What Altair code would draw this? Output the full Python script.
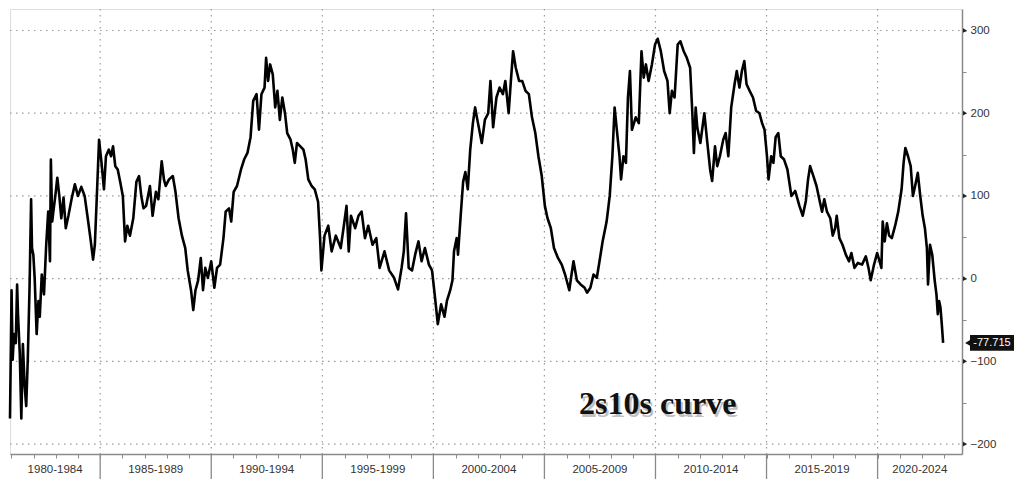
import altair as alt
import pandas as pd

# ---- data (decimal year, basis points) ----
years = [
    1980.94, 1981.01, 1981.06, 1981.12, 1981.20, 1981.26, 1981.30, 1981.38, 1981.45, 1981.52,
    1981.60, 1981.67, 1981.74, 1981.82, 1981.89, 1981.93, 1981.99, 1982.05, 1982.14, 1982.22,
    1982.28, 1982.37, 1982.47, 1982.57, 1982.66, 1982.74, 1982.78, 1982.84, 1982.91, 1982.98,
    1983.07, 1983.16, 1983.25, 1983.35, 1983.45, 1983.57, 1983.71, 1983.86, 1984.00, 1984.15,
    1984.30, 1984.44, 1984.56, 1984.68, 1984.76, 1984.85, 1984.95, 1985.06, 1985.17, 1985.26,
    1985.39, 1985.49, 1985.58, 1985.68, 1985.79, 1985.90, 1986.02, 1986.12, 1986.22, 1986.34,
    1986.49, 1986.63, 1986.75, 1986.85, 1986.95, 1987.07, 1987.24, 1987.36, 1987.51, 1987.62,
    1987.77, 1987.87,
    1987.95, 1988.10, 1988.27, 1988.39, 1988.53, 1988.68, 1988.83, 1988.94, 1989.09, 1989.19,
    1989.29, 1989.41, 1989.53, 1989.63, 1989.73, 1989.85, 1990.00, 1990.14, 1990.26, 1990.40,
    1990.55, 1990.65, 1990.80, 1990.90, 1991.01, 1991.16, 1991.34, 1991.48, 1991.63, 1991.77,
    1991.89, 1992.04, 1992.15, 1992.26, 1992.40, 1992.47, 1992.56, 1992.65, 1992.77, 1992.88,
    1992.98, 1993.09, 1993.20, 1993.32, 1993.42, 1993.57, 1993.67, 1993.76, 1993.86, 1994.01,
    1994.15, 1994.25, 1994.37, 1994.52, 1994.66, 1994.81, 1994.90, 1994.96,
    1995.10, 1995.27, 1995.42, 1995.61, 1995.83, 1995.97, 1996.09, 1996.19, 1996.29, 1996.48,
    1996.63, 1996.77, 1996.92, 1997.07, 1997.26, 1997.43, 1997.58, 1997.80, 1998.01, 1998.23,
    1998.41, 1998.57, 1998.67, 1998.77, 1998.89, 1999.04, 1999.18, 1999.33, 1999.47, 1999.62,
    1999.80, 1999.94, 2000.06, 2000.20, 2000.35, 2000.50, 2000.61, 2000.76, 2000.86, 2000.93,
    2001.05, 2001.11, 2001.23, 2001.34, 2001.44, 2001.55, 2001.66, 2001.78, 2001.88,
    2001.96, 2002.18, 2002.32, 2002.47, 2002.57, 2002.69, 2002.84, 2002.98, 2003.13, 2003.24,
    2003.39, 2003.49, 2003.59, 2003.71, 2003.86, 2004.00, 2004.15, 2004.30, 2004.44, 2004.59,
    2004.73, 2004.88, 2005.02, 2005.14, 2005.29, 2005.43, 2005.61, 2005.78, 2005.93, 2006.12,
    2006.22, 2006.31, 2006.46, 2006.63, 2006.81, 2006.92, 2007.07, 2007.21, 2007.36, 2007.48,
    2007.62, 2007.80, 2007.94, 2008.06, 2008.16, 2008.26, 2008.38, 2008.45, 2008.56, 2008.67,
    2008.76, 2008.85, 2008.94,
    2009.11, 2009.25, 2009.37, 2009.47, 2009.57, 2009.69, 2009.84, 2009.98, 2010.10, 2010.24,
    2010.39, 2010.54, 2010.64, 2010.74, 2010.86, 2011.00, 2011.12, 2011.27, 2011.41, 2011.56,
    2011.66, 2011.73, 2011.81, 2011.88, 2012.02, 2012.20, 2012.32, 2012.46, 2012.55, 2012.68,
    2012.78, 2012.90, 2013.05, 2013.16, 2013.28, 2013.41, 2013.56, 2013.66, 2013.78, 2013.89,
    2014.00, 2014.10, 2014.24, 2014.39, 2014.53, 2014.68, 2014.80, 2014.91, 2015.02, 2015.09,
    2015.21, 2015.31, 2015.41, 2015.53, 2015.64, 2015.79, 2015.94,
    2016.12, 2016.29, 2016.48, 2016.63, 2016.77, 2016.87, 2016.96, 2017.11, 2017.25, 2017.40,
    2017.50, 2017.60, 2017.72, 2017.87, 2017.98, 2018.09, 2018.16, 2018.28, 2018.42, 2018.57,
    2018.71, 2018.82, 2018.96, 2019.11, 2019.30, 2019.47, 2019.59, 2019.69, 2019.84, 2019.98,
    2020.09, 2020.17, 2020.23, 2020.32, 2020.42, 2020.52, 2020.64, 2020.79, 2020.93, 2021.08,
    2021.17, 2021.25, 2021.37, 2021.49, 2021.59, 2021.69, 2021.81, 2021.92, 2022.03, 2022.13,
    2022.22, 2022.27, 2022.36, 2022.46, 2022.57, 2022.65, 2022.71, 2022.77, 2022.83, 2022.89,
    2022.95,
]
values = [
    -169, -14, -98, -67, -78, -7, -43, -90, -169, -79,
    -130, -154, -98, -11, 96, 37, 29, 1, -67, -27,
    -46, 5, -19, 41, 81, 21, 144, 69, 85, 100,
    122, 100, 73, 98, 61, 76, 96, 114, 100, 111,
    100, 73, 49, 23, 41, 100, 168, 140, 108, 148,
    156, 148, 160, 136, 132, 117, 100, 45, 64, 52,
    73, 117, 124, 100, 85, 88, 112, 76, 105, 96,
    142, 120,
    112, 120, 124, 105, 73, 52, 37, 10, -14, -38,
    -14, -2, 25, -14, 13, 1, 21, -11, 13, 17,
    49, 81, 85, 69, 105, 112, 132, 144, 152, 171,
    215, 223, 180, 223, 231, 267, 239, 259, 247, 207,
    227, 192, 219, 200, 176, 168, 156, 140, 164, 160,
    156, 144, 120, 112, 108, 93, 49, 10,
    52, 64, 33, 52, 37, 64, 88, 33, 76, 61,
    76, 81, 49, 64, 41, 49, 13, 33, 10, 1,
    -13, 13, 33, 79, 13, 10, 29, 45, 21, 37,
    17, 10, -19, -55, -31, -46, -27, -14, -2, 33,
    49, 29, 76, 117, 129, 108, 156, 188, 207,
    195, 164, 192, 200, 239, 183, 219, 231, 223, 239,
    200, 239, 275, 255, 239, 239, 227, 223, 195, 176,
    148, 124, 88, 73, 61, 37, 25, 17, 5, -14,
    5, 21, -2, -7, -11, -17, -11, 5, 1, 21,
    45, 69, 100, 148, 207, 180, 148, 120, 148, 140,
    219, 251, 180,
    195, 188, 275, 243, 259, 239, 259, 283, 290, 275,
    251, 239, 200, 227, 219, 283, 287, 275, 267, 255,
    200, 152, 207, 183, 164, 200, 168, 132, 118, 160,
    136, 148, 168, 176, 148, 207, 235, 251, 231, 251,
    263, 235, 227, 219, 203, 200, 188, 180, 148, 120,
    148, 140, 171, 176, 148, 144, 132,
    100, 106, 88, 76, 94, 120, 136, 124, 112, 93,
    81, 96, 81, 73, 52, 61, 76, 49, 41, 29,
    21, 31, 13, 19, 17, 27, 13, -2, 17, 31,
    21, 13, 69, 45, 67, 52, 49, 64, 81, 108,
    140, 158, 148, 136, 100, 112, 128, 100, 76, 61,
    37, -7, 41, 29, -2, -19, -43, -27, -35, -55,
    -77.715,
]

period_labels = ["1980-1984", "1985-1989", "1990-1994", "1995-1999", "2000-2004",
                 "2005-2009", "2010-2014", "2015-2019", "2020-2024"]
period_mids = [1982.97, 1987.5, 1992.5, 1997.5, 2002.5, 2007.5, 2012.5, 2017.5, 2021.9]
period_bounds = [1985, 1990, 1995, 2000, 2005, 2010, 2015, 2020]
year_ticks = list(range(1981, 2024))
y_grid = [-200, -100, 0, 100, 200, 300]
y_ticks = [-200, -150, -100, -50, 0, 50, 100, 150, 200, 250, 300]
title_text = "2s10s curve"

W, H = 952, 445
X_DOMAIN = [1980.94, 2023.8]
Y_DOMAIN = [-212, 326]
GRID_COLOR = "#9a9a9a"
AXIS_COLOR = "#8a8a8a"
FONT = "Liberation Sans"

df = pd.DataFrame({"year": years, "value": values})
grid_df = pd.DataFrame({"value": y_grid})
bounds_df = pd.DataFrame({"year": period_bounds})
labels_df = pd.DataFrame({"year": period_mids, "label": period_labels})
last_val = values[-1]
last_df = pd.DataFrame({"year": [years[-1]], "value": [last_val],
                        "lo": [last_val - 9.5], "hi": [last_val + 9.5],
                        "label": [f"{last_val:.3f}"]})
title_df = pd.DataFrame({"year": [2010.1], "value": [-151.0], "label": [title_text]})

xs = alt.Scale(domain=X_DOMAIN, nice=False, zero=False)
ys = alt.Scale(domain=Y_DOMAIN, nice=False, zero=False)
x_axis = alt.Axis(values=year_ticks, labels=False, grid=False, tickSize=4, title="",
                  domainColor=AXIS_COLOR, tickColor=AXIS_COLOR, domainWidth=1.5)
y_axis = alt.Axis(orient="right", values=y_ticks, grid=False, tickSize=4, title="",
                  labelExpr="datum.value % 100 == 0 ? datum.label : ''",
                  domainColor=AXIS_COLOR, tickColor=AXIS_COLOR, domainWidth=1.5,
                  labelColor="#333333", labelFontSize=11.5, labelFont=FONT, labelPadding=4)

X = alt.X("year:Q", scale=xs, axis=x_axis)
Y = alt.Y("value:Q", scale=ys, axis=y_axis)

hgrid = alt.Chart(grid_df).mark_rule(color=GRID_COLOR, strokeDash=[1.5, 4.5], strokeWidth=1.2).encode(
    y=Y, x=alt.value(0), x2=alt.value(W))
vgrid = alt.Chart(bounds_df).mark_rule(color=GRID_COLOR, strokeDash=[1.5, 4.5], strokeWidth=1.2).encode(
    x=X, y=alt.value(0), y2=alt.value(H))
seps = alt.Chart(bounds_df).mark_rule(color=AXIS_COLOR, strokeWidth=1.3).encode(
    x=X, y=alt.value(H), y2=alt.value(H + 25))

line = alt.Chart(df).mark_line(color="#000000", strokeWidth=2.6, strokeJoin="round").encode(x=X, y=Y)

plabels = alt.Chart(labels_df).mark_text(font=FONT, fontSize=11.5, color="#333333",
                                         baseline="middle", align="center").encode(
    x=X, y=alt.value(H + 16), text="label:N")

major = alt.Chart(grid_df).mark_point(shape="triangle-right", filled=True, color="#222222",
                                      size=22, opacity=1).encode(
    y=Y, x=alt.value(W + 3))

shadow = alt.Chart(title_df).mark_text(font="Liberation Serif", fontSize=32, fontWeight="bold",
                                       color="#777777", opacity=0.45, dx=2, dy=3).encode(
    x=X, y=Y, text="label:N")
title = alt.Chart(title_df).mark_text(font="Liberation Serif", fontSize=32, fontWeight="bold",
                                      color="#111111").encode(x=X, y=Y, text="label:N")

box = alt.Chart(last_df).mark_rect(color="#111111").encode(
    y=alt.Y("lo:Q", scale=ys, axis=y_axis), y2="hi:Q", x=alt.value(W + 8), x2=alt.value(W + 52))
arrow = alt.Chart(last_df).mark_point(shape="triangle-left", filled=True, color="#111111",
                                      size=45, opacity=1).encode(y=Y, x=alt.value(W + 6))
box_text = alt.Chart(last_df).mark_text(font=FONT, fontSize=11, color="#ffffff",
                                        align="center", baseline="middle").encode(
    y=Y, x=alt.value(W + 30), text="label:N")

chart = alt.layer(hgrid, vgrid, seps, line, plabels, major, shadow, title, box, arrow, box_text).properties(
    width=W, height=H, padding=0
).configure_view(strokeWidth=0).configure(background="#ffffff")

chart.save("out.html", embed_options={"renderer": "svg", "actions": False})
